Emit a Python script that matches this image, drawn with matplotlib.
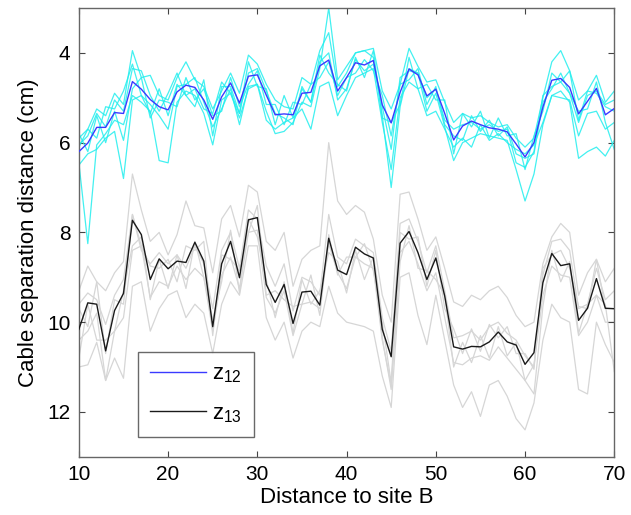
import matplotlib
matplotlib.use("Agg")
import matplotlib.pyplot as plt
import numpy as np

plt.rcParams['font.family'] = ['Liberation Sans', 'DejaVu Sans']

# distance to site B
dist = np.arange(10, 71)

# mean separation z12 (blue) and z13 (black)
z12 = [6.20, 6.01, 5.66, 5.66, 5.33, 5.35, 4.64, 4.81, 5.04, 5.20,
       5.27, 4.87, 4.72, 4.77, 5.05, 5.48, 4.98, 4.67, 5.12, 4.52,
       4.49, 4.94, 5.38, 5.36, 5.38, 4.90, 4.88, 4.29, 4.16, 4.85,
       4.55, 4.22, 4.27, 4.17, 5.16, 5.56, 4.88, 4.36, 4.49, 4.96,
       4.81, 5.35, 5.94, 5.63, 5.52, 5.60, 5.67, 5.70, 5.76, 6.03,
       6.32, 6.00, 5.21, 4.61, 4.57, 4.77, 5.36, 5.08, 4.79, 5.38,
       5.24]
z13 = [10.16, 9.57, 9.60, 10.64, 9.74, 9.36, 7.73, 8.05, 9.05, 8.59,
       8.81, 8.64, 8.67, 8.22, 8.64, 10.10, 8.70, 8.20, 9.01, 7.72,
       7.67, 9.16, 9.56, 9.16, 10.03, 9.33, 9.31, 9.62, 8.13, 8.84,
       8.94, 8.33, 8.48, 8.57, 10.16, 10.77, 8.24, 7.98, 8.45, 9.05,
       8.57, 9.42, 10.55, 10.60, 10.54, 10.55, 10.44, 10.22, 10.44, 10.51,
       10.94, 10.68, 9.12, 8.47, 8.74, 8.70, 9.96, 9.69, 9.03, 9.69,
       9.70]

# individual runs, z12 (cyan)
c1 = [6.45, 8.25, 6.05, 5.80, 5.50, 5.60, 4.95, 5.10, 5.30, 6.40,
      6.45, 5.10, 4.85, 4.95, 5.35, 6.05, 5.05, 4.90, 5.45, 4.80,
      4.70, 5.30, 5.80, 5.75, 5.55, 5.10, 5.20, 4.35, 3.00, 4.60,
      4.30, 4.00, 3.95, 4.10, 5.40, 7.00, 5.20, 4.35, 4.45, 5.30,
      4.90, 5.65, 6.40, 6.00, 5.90, 5.80, 5.85, 5.90, 5.95, 6.60,
      7.30, 6.70, 5.60, 4.95, 4.85, 5.10, 6.35, 6.20, 6.10, 6.30, 5.95]
c2 = [5.90, 5.70, 5.25, 5.40, 4.90, 5.15, 3.95, 4.55, 4.50, 4.95,
      5.05, 4.55, 4.20, 4.60, 4.75, 5.25, 4.85, 4.45, 4.90, 4.05,
      4.25, 4.70, 5.05, 5.20, 5.25, 4.55, 4.70, 3.95, 3.55, 4.75,
      4.45, 4.00, 3.95, 3.90, 4.85, 5.25, 4.70, 3.90, 4.30, 4.65,
      4.60, 5.10, 5.55, 5.35, 5.45, 5.40, 5.55, 5.65, 5.60, 5.90,
      6.10, 5.90, 5.00, 4.20, 3.95, 4.40, 5.05, 4.85, 4.50, 5.10, 4.85]
c3 = [6.05, 5.85, 5.35, 5.65, 5.05, 5.30, 4.35, 4.40, 4.95, 5.30,
      4.90, 4.45, 4.95, 4.80, 5.25, 5.35, 4.65, 4.90, 5.35, 4.45,
      4.35, 4.85, 5.35, 5.45, 5.60, 4.75, 5.10, 4.20, 4.00, 5.05,
      4.80, 4.15, 4.40, 4.25, 5.20, 6.15, 4.55, 4.40, 4.45, 5.00,
      4.80, 5.50, 5.70, 5.60, 5.55, 5.70, 5.60, 5.75, 5.70, 6.45,
      6.55, 6.20, 4.95, 4.75, 4.65, 4.90, 5.55, 4.95, 4.85, 5.15, 5.05]
c4 = [6.50, 6.25, 6.15, 5.90, 5.75, 6.80, 5.05, 4.95, 5.15, 5.40,
      5.70, 4.75, 4.70, 4.55, 5.10, 5.65, 5.25, 4.80, 5.60, 4.75,
      4.70, 5.50, 5.70, 5.55, 5.45, 5.25, 5.70, 4.75, 4.65, 5.40,
      4.95, 4.55, 4.45, 4.35, 5.55, 6.60, 5.00, 4.65, 4.80, 5.40,
      5.30, 5.70, 6.10, 5.90, 6.10, 5.60, 5.95, 5.80, 6.00, 6.15,
      6.25, 6.05, 5.55, 4.95, 5.00, 5.05, 5.85, 5.35, 5.30, 5.70, 5.55]
c5 = [6.10, 5.70, 5.90, 5.20, 5.25, 4.85, 4.25, 4.95, 5.35, 4.80,
      5.40, 4.70, 4.95, 5.20, 4.60, 5.85, 4.75, 4.75, 5.35, 4.20,
      4.75, 4.80, 5.60, 4.95, 5.45, 4.80, 5.10, 4.05, 4.45, 4.70,
      4.85, 4.10, 4.55, 3.95, 5.45, 5.55, 5.15, 4.10, 4.80, 4.70,
      5.05, 5.05, 6.25, 5.35, 5.65, 5.30, 5.90, 5.45, 5.85, 5.80,
      6.60, 5.85, 5.30, 4.45, 4.65, 4.40, 5.50, 4.85, 4.90, 5.20, 5.30]
c6 = [5.80, 6.20, 5.40, 6.00, 5.30, 5.95, 4.80, 4.55, 5.45, 5.05,
      5.10, 5.20, 4.55, 5.05, 4.80, 5.40, 5.30, 4.55, 5.20, 4.70,
      4.40, 5.15, 5.15, 5.60, 5.10, 5.15, 4.70, 4.55, 4.20, 4.95,
      4.55, 4.45, 4.15, 4.40, 4.95, 5.85, 4.70, 4.60, 4.35, 5.15,
      4.75, 5.60, 5.85, 5.95, 5.40, 5.75, 5.50, 5.85, 5.65, 6.25,
      6.35, 6.25, 5.10, 4.80, 4.45, 4.90, 5.30, 5.25, 4.65, 5.55, 6.15]

# individual runs, z13 (light grey)
g1 = [9.30, 8.75, 9.10, 9.30, 8.90, 8.65, 6.70, 7.50, 8.20, 8.00,
      8.50, 8.05, 7.30, 7.85, 7.90, 8.90, 7.70, 7.40, 8.10, 6.95,
      7.10, 8.20, 8.40, 8.00, 9.20, 8.60, 8.40, 8.30, 6.00, 7.30,
      7.60, 7.40, 7.55, 8.15, 9.40, 10.00, 7.15, 7.10, 7.70, 8.40,
      8.10, 8.80, 9.55, 9.65, 9.40, 9.50, 9.30, 9.20, 9.45, 9.85,
      10.10, 10.00, 8.70, 8.10, 7.80, 8.00, 9.40, 8.90, 8.60, 9.10, 8.80]
g2 = [11.00, 10.95, 10.45, 11.30, 10.80, 11.25, 9.20, 9.10, 10.20, 9.70,
      9.40, 9.30, 9.90, 9.60, 9.80, 10.70, 9.60, 9.10, 9.40, 8.30,
      8.30, 9.90, 10.40, 10.00, 10.80, 10.20, 10.00, 10.10, 9.20, 9.80,
      10.00, 10.05, 10.10, 10.20, 11.20, 11.90, 9.00, 8.90, 9.85, 10.50,
      9.40, 10.40, 11.40, 11.90, 11.55, 12.10, 11.40, 11.30, 11.65, 12.15,
      12.40, 11.80, 10.40, 9.60, 9.90, 10.00, 11.50, 11.60, 10.00, 10.50, 10.90]
g3 = [9.60, 9.35, 9.50, 10.05, 9.40, 9.05, 7.60, 8.40, 8.70, 8.45,
      8.70, 8.50, 8.80, 8.30, 8.70, 9.70, 8.40, 8.00, 8.80, 7.50,
      7.70, 8.75, 9.20, 8.70, 9.75, 9.00, 9.10, 9.40, 7.60, 8.55,
      8.70, 8.15, 8.30, 8.45, 9.90, 10.65, 7.80, 7.70, 8.20, 8.90,
      8.30, 9.30, 10.35, 10.30, 10.20, 10.40, 10.10, 10.00, 10.25, 10.40,
      10.75, 11.00, 8.95, 8.20, 8.15, 8.40, 9.70, 9.60, 8.80, 9.50, 9.30]
g4 = [10.40, 10.20, 9.80, 11.30, 10.20, 9.90, 8.40, 8.30, 9.45, 9.10,
      9.20, 8.75, 9.05, 8.80, 9.00, 10.20, 8.95, 8.55, 9.25, 8.00,
      7.95, 9.45, 9.80, 9.30, 10.30, 9.60, 9.55, 9.70, 8.25, 8.90,
      9.25, 8.55, 8.70, 8.80, 10.40, 11.40, 8.45, 8.20, 8.70, 9.30,
      8.90, 9.90, 10.90, 10.95, 10.80, 10.75, 10.85, 10.55, 10.80, 11.05,
      11.30, 10.95, 9.40, 8.75, 8.95, 9.00, 10.30, 10.00, 9.40, 10.00, 10.00]
g5 = [9.70, 10.10, 9.10, 10.70, 9.50, 9.60, 7.60, 8.30, 8.75, 8.80,
      8.60, 9.10, 8.30, 8.40, 8.20, 10.30, 8.50, 8.60, 8.85, 8.00,
      7.40, 9.40, 9.30, 9.50, 9.65, 9.60, 8.95, 9.85, 8.05, 8.95,
      8.55, 8.55, 8.25, 8.85, 10.00, 11.35, 8.00, 8.15, 8.10, 9.20,
      8.40, 9.70, 10.15, 10.70, 10.15, 10.65, 10.05, 10.35, 10.10, 10.70,
      10.70, 11.05, 8.80, 8.50, 8.40, 8.80, 9.65, 9.70, 8.60, 9.70, 9.70]
g6 = [10.80, 9.60, 10.40, 10.40, 10.20, 9.30, 8.30, 8.10, 9.50, 8.60,
      9.25, 8.50, 9.25, 8.20, 9.00, 9.95, 9.10, 7.95, 9.35, 7.70,
      8.10, 9.05, 9.90, 9.10, 10.25, 9.05, 9.60, 9.30, 8.45, 8.65,
      9.35, 8.40, 9.05, 8.55, 10.35, 11.50, 8.65, 7.85, 8.80, 8.85,
      9.05, 9.40, 11.00, 10.45, 10.90, 10.30, 10.80, 10.10, 10.75, 10.45,
      11.30, 11.60, 9.65, 8.40, 9.10, 8.65, 10.25, 9.60, 9.40, 9.60, 11.10]

cyan_runs = [c1, c2, c3, c4, c5, c6]
grey_runs = [g1, g2, g3, g4, g5, g6]

fig = plt.figure(figsize=(6.31, 5.15), dpi=100)
ax = fig.add_axes([0.125, 0.113, 0.8485, 0.8715])

for g in grey_runs:
    ax.plot(dist, g, color="#d6d6d6", lw=0.9, zorder=1)
for c in cyan_runs:
    ax.plot(dist, c, color="#22eeee", lw=0.9, alpha=0.85, zorder=2)
ax.plot(dist, z13, color="#1a1a1a", lw=1.0, zorder=3, label=r"$\mathregular{z_{13}}$")
ax.plot(dist, z12, color="#3a3aff", lw=1.0, zorder=4, label=r"$\mathregular{z_{12}}$")

ax.set_xlim(10, 70)
ax.set_ylim(13, 3)
ax.set_xticks([10, 20, 30, 40, 50, 60, 70])
ax.set_yticks([4, 6, 8, 10, 12])
ax.tick_params(direction="in", length=4, width=0.8, top=True, right=True,
               labelsize=15, color="#444444", pad=6)
for s in ax.spines.values():
    s.set_color("#666666")
    s.set_linewidth(1.0)
ax.set_xlabel("Distance to site B", fontsize=16, labelpad=2)
ax.set_ylabel("Cable separation distance (cm)", fontsize=16, labelpad=6)

h, l = ax.get_legend_handles_labels()
leg = ax.legend(h[::-1], l[::-1], loc="lower left", bbox_to_anchor=(0.110, 0.044),
                borderaxespad=0, fontsize=16, frameon=True, fancybox=False,
                edgecolor="#444444", handlelength=2.5, labelspacing=0.8,
                borderpad=0.55, handletextpad=0.3)
leg.get_frame().set_linewidth(1.0)

fig.savefig("out.png", dpi=100, facecolor="white")
